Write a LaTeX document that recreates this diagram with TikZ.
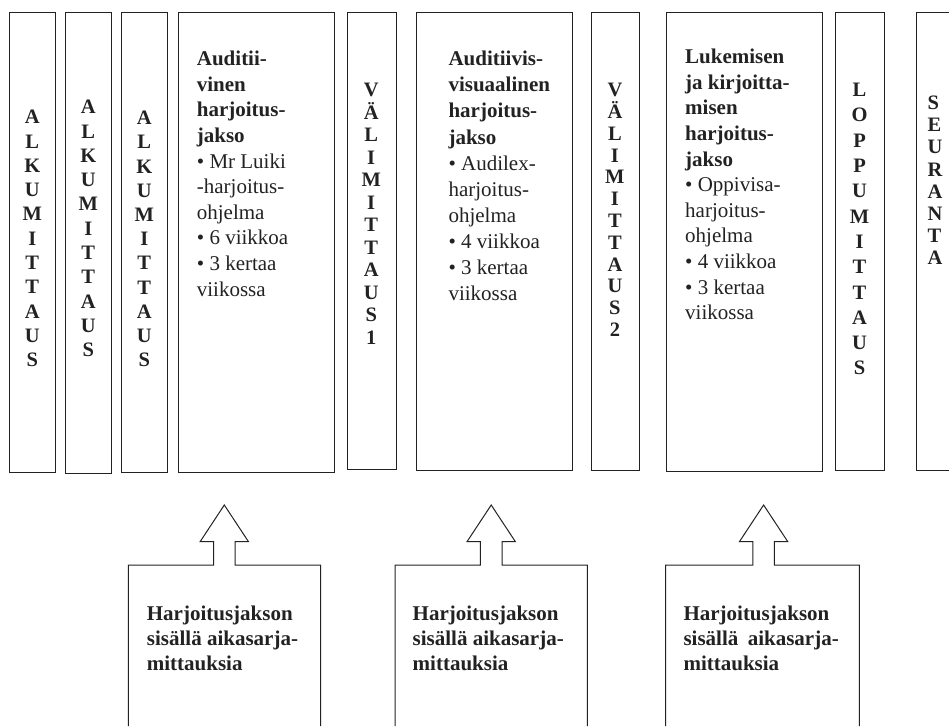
\documentclass[tikz,border=0pt]{standalone}
\usepackage{fontspec}
\setmainfont{Liberation Serif}
\definecolor{ink}{HTML}{222222}
\begin{document}
\begin{tikzpicture}[x=1pt,y=-1pt,
  box/.style={draw=ink, line width=1pt, inner sep=0pt, anchor=north west},
  vlet/.style={text=ink, align=center, inner sep=0pt, anchor=north},
  body/.style={text=ink, font=\fontsize{21}{25.6}\selectfont, align=left, inner sep=0pt, anchor=north west},
  bbody/.style={text=ink, font=\bfseries\fontsize{21}{25}\selectfont, align=left, inner sep=0pt, anchor=north west},
  abox/.style={draw=ink, line width=1pt, line join=miter}]
\useasboundingbox (0,0) rectangle (949,726);

% top row boxes
\node[box, minimum width=46pt, minimum height=460pt] (b1) at (9.3,11.7) {};
\node[box, minimum width=46pt, minimum height=461pt] (b2) at (65.3,12) {};
\node[box, minimum width=46pt, minimum height=460pt] (b3) at (121.3,12) {};
\node[box, minimum width=156pt, minimum height=460pt] (b4) at (178.3,12) {};
\node[box, minimum width=49pt, minimum height=457pt] (b5) at (346.7,12) {};
\node[box, minimum width=156.6pt, minimum height=458pt] (b6) at (415.7,12) {};
\node[box, minimum width=48.3pt, minimum height=458pt] (b7) at (590.7,12) {};
\node[box, minimum width=156.6pt, minimum height=458.7pt] (b8) at (665.7,12) {};
\node[box, minimum width=49pt, minimum height=458pt] (b9) at (835,12) {};
\coordinate (b10tr) at (949,12);
\coordinate (b10br) at (949,470);
\draw[draw=ink, line width=1pt] (b10tr) -- (916,12) -- (916,470) -- (b10br);

% vertical letters
\node[vlet, font=\bfseries\fontsize{20.5}{24.3}\selectfont] (t1) at (32.3,110) {A\\L\\K\\U\\M\\I\\T\\T\\A\\U\\S};
\node[vlet, font=\bfseries\fontsize{20.5}{24.3}\selectfont] (t2) at (88.3,100) {A\\L\\K\\U\\M\\I\\T\\T\\A\\U\\S};
\node[vlet, font=\bfseries\fontsize{20.5}{24.2}\selectfont] (t3) at (144.3,111) {A\\L\\K\\U\\M\\I\\T\\T\\A\\U\\S};
\node[vlet, font=\bfseries\fontsize{20.5}{22.5}\selectfont] (t5) at (371.2,83) {V\\Ä\\L\\I\\M\\I\\T\\T\\A\\U\\S\\1};
\node[vlet, font=\bfseries\fontsize{20.5}{21.8}\selectfont] (t7) at (614.9,83) {V\\Ä\\L\\I\\M\\I\\T\\T\\A\\U\\S\\2};
\node[vlet, font=\bfseries\fontsize{20.5}{25.3}\selectfont] (t9) at (859.5,83) {L\\O\\P\\P\\U\\M\\I\\T\\T\\A\\U\\S};
\node[vlet, anchor=north west, align=left, font=\bfseries\fontsize{20.5}{22.1}\selectfont] (t10) at (927.5,96) {S\\E\\U\\R\\A\\N\\T\\A};

% big box texts
\node[body] (t4) at (196.7,51) {\textbf{Auditii-}\\\textbf{vinen}\\\textbf{harjoitus-}\\\textbf{jakso}\\• Mr Luiki\\-harjoitus-\\ohjelma\\• 6 viikkoa\\• 3 kertaa\\viikossa};
\node[body, font=\fontsize{21}{26.1}\selectfont] (t6) at (448.3,51) {\textbf{Auditiivis-}\\\textbf{visuaalinen}\\\textbf{harjoitus-}\\\textbf{jakso}\\• Audilex-\\harjoitus-\\ohjelma\\• 4 viikkoa\\• 3 kertaa\\viikossa};
\node[body] (t8) at (685,49) {\textbf{Lukemisen}\\\textbf{ja kirjoitta-}\\\textbf{misen}\\\textbf{harjoitus-}\\\textbf{jakso}\\• Oppivisa-\\harjoitus-\\ohjelma\\• 4 viikkoa\\• 3 kertaa\\viikossa};

% bottom arrow boxes
\draw[abox] (128.3,726) -- (128.3,565) -- (213.5,565) -- (213.5,541.7) -- (200.1,541.7)
  -- (224.3,505) coordinate (tipA) -- (248.5,541.7) -- (235.1,541.7) -- (235.1,565) -- (320.7,565) -- (320.7,726);
\draw[abox] (395,726) -- (395,565) -- (480.4,565) -- (480.4,541.7) -- (467,541.7)
  -- (491.2,505) coordinate (tipB) -- (515.4,541.7) -- (502,541.7) -- (502,565) -- (587.3,565) -- (587.3,726);
\draw[abox] (665.7,726) -- (665.7,565) -- (752.8,565) -- (752.8,541.7) -- (739.4,541.7)
  -- (763.6,505) coordinate (tipC) -- (787.8,541.7) -- (774.4,541.7) -- (774.4,565) -- (859.3,565) -- (859.3,726);

\node[bbody] (ta) at (146.7,605.5) {Harjoitusjakson\\sisällä aikasarja-\\mittauksia};
\node[bbody] (tb) at (412.5,605.5) {Harjoitusjakson\\sisällä aikasarja-\\mittauksia};
\node[bbody] (tc) at (683.3,605.5) {Harjoitusjakson\\sisällä\hspace{0.45em}aikasarja-\\mittauksia};
\end{tikzpicture}
\end{document}
